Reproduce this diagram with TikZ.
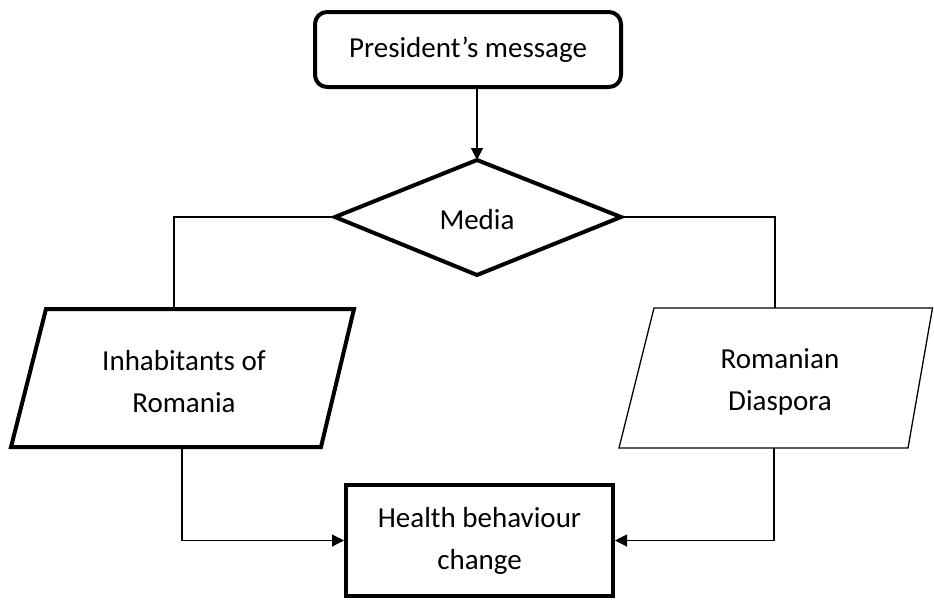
\documentclass[tikz,border=0pt]{standalone}
\usepackage{fontspec}
\setmainfont{Carlito}
\usetikzlibrary{arrows.meta}
\begin{document}
\begin{tikzpicture}[x=1pt,y=-1pt,
  bold/.style={draw,line width=4pt,line join=miter},
  thin/.style={draw,line width=1.3pt,line join=miter},
  conn/.style={draw,line width=1.1pt},
  arr/.style={conn,-{Triangle[length=12pt,width=12pt]}},
  txt/.style={font=\fontsize{29}{42}\selectfont,align=center,inner sep=0pt}]
\useasboundingbox (0,0) rectangle (934,600);
% President's message
\node[bold,rounded corners=12pt,minimum width=306pt,minimum height=75pt,inner sep=0pt] (pres) at (468,49.5) {};
\node[txt] (prestxt) at (pres.center) {President’s message};
% Media diamond
\coordinate (mt) at (477,160);
\coordinate (mr) at (621,217);
\coordinate (mb) at (477,275);
\coordinate (ml) at (335,217);
\draw[bold] (mt) -- (mr) -- (mb) -- (ml) -- cycle;
\node[txt] (media) at (477,220) {Media};
% Inhabitants parallelogram
\coordinate (ltl) at (46,309);
\coordinate (ltr) at (354,309);
\coordinate (lbr) at (321,447);
\coordinate (lbl) at (11,447);
\draw[bold] (ltl) -- (ltr) -- (lbr) -- (lbl) -- cycle;
\node[txt] (inhab) at (184,382) {Inhabitants of\\Romania};
% Diaspora parallelogram
\coordinate (rtl) at (654,308);
\coordinate (rtr) at (932.5,308);
\coordinate (rbr) at (908,448);
\coordinate (rbl) at (619,448);
\draw[thin] (rtl) -- (rtr) -- (rbr) -- (rbl) -- cycle;
\node[txt] (diasp) at (780,382) {Romanian\\Diaspora};
% Health behaviour change
\node[bold,minimum width=267pt,minimum height=111pt,inner sep=0pt] (health) at (479.5,540.5) {};
\node[txt] (healthtxt) at (health.center) {Health behaviour\\change};
% connectors
\coordinate (ltop) at (174,309);
\coordinate (rtop) at (775,308);
\coordinate (lbot) at (182,447);
\coordinate (rbot) at (774,448);
\draw[arr] (pres.south -| mt) -- (mt);
\draw[conn] (ml) -| (ltop);
\draw[conn] (mr) -| (rtop);
\draw[arr] (lbot) |- (health.west);
\draw[arr] (rbot) |- (health.east);
\end{tikzpicture}
\end{document}
